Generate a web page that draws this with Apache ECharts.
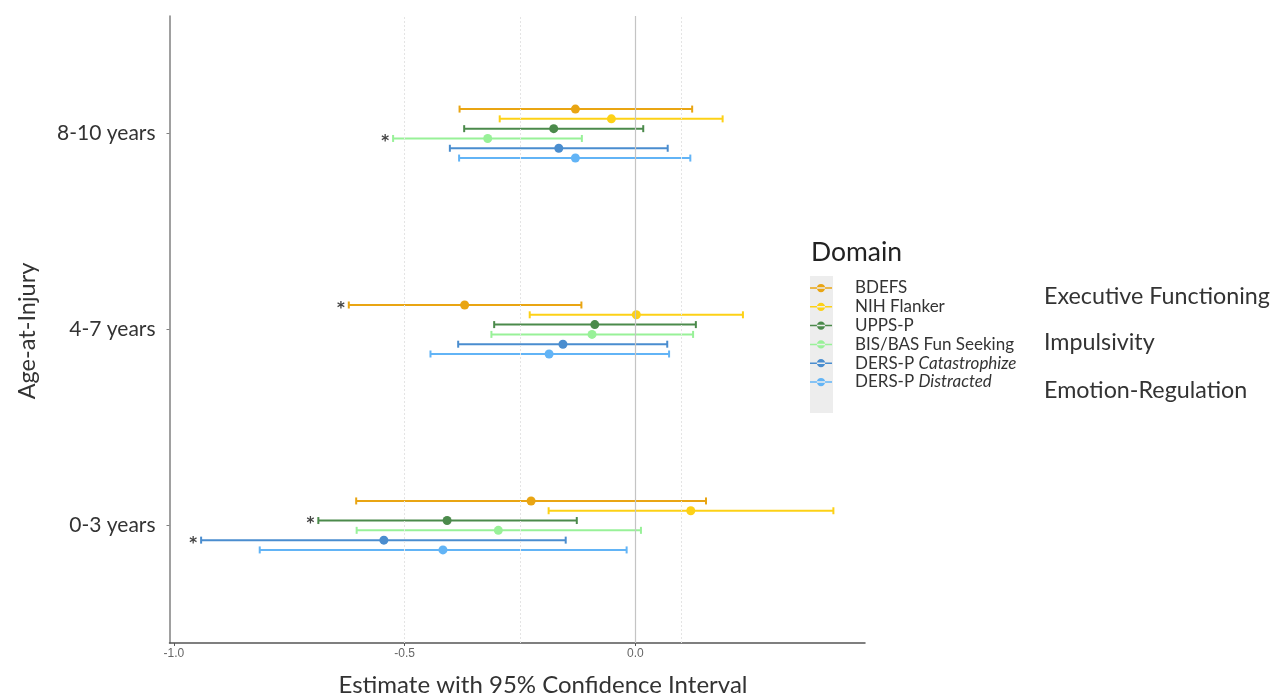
<!DOCTYPE html>
<html>
<head>
<meta charset="utf-8">
<script src="https://cdn.jsdelivr.net/npm/echarts@6/dist/echarts.min.js"></script>
<style>html,body{margin:0;padding:0;background:#fff}#c{width:1271px;height:697px}</style>
</head>
<body>
<div id="c"></div>
<script>
// ---- data ----
const ageGroups = ['0-3 years', '4-7 years', '8-10 years'];
const measures = ['BDEFS', 'NIH Flanker', 'UPPS-P', 'BIS/BAS Fun Seeking', 'DERS-P Catastrophize', 'DERS-P Distracted'];
const domains = ['Executive Functioning', 'Impulsivity', 'Emotion-Regulation'];
const xTickValues = [-1.0, -0.5, 0.0];
// [lower, estimate, upper] per age group (0-3, 4-7, 8-10)
const ciBDEFS      = [[-0.605, -0.226, 0.153], [-0.621, -0.370, -0.117], [-0.381, -0.130, 0.123]];
const ciNIHFlanker = [[-0.188, 0.120, 0.429], [-0.229, 0.002, 0.233], [-0.294, -0.052, 0.189]];
const ciUPPSP      = [[-0.687, -0.408, -0.127], [-0.306, -0.088, 0.131], [-0.371, -0.177, 0.017]];
const ciBISBAS     = [[-0.604, -0.297, 0.012], [-0.312, -0.094, 0.125], [-0.525, -0.320, -0.116]];
const ciDERSCat    = [[-0.941, -0.545, -0.151], [-0.384, -0.157, 0.069], [-0.402, -0.166, 0.070]];
const ciDERSDis    = [[-0.814, -0.417, -0.019], [-0.444, -0.187, 0.073], [-0.382, -0.130, 0.119]];
// significance flags (*) per age group
const sigBDEFS = [0, 1, 0];
const sigNIHFlanker = [0, 0, 0];
const sigUPPSP = [1, 0, 0];
const sigBISBAS = [0, 0, 1];
const sigDERSCat = [1, 0, 0];
const sigDERSDis = [0, 0, 0];

const allCI = [ciBDEFS, ciNIHFlanker, ciUPPSP, ciBISBAS, ciDERSCat, ciDERSDis];
const allSig = [sigBDEFS, sigNIHFlanker, sigUPPSP, sigBISBAS, sigDERSCat, sigDERSDis];
const colors = ['#E9A513', '#FDD116', '#4B8A4B', '#98F198', '#4A8DCF', '#62B4F6'];

// ---- scales ----
let lo = Infinity, hi = -Infinity;
allCI.forEach(s => s.forEach(r => { lo = Math.min(lo, r[0]); hi = Math.max(hi, r[2]); }));
const pad = (hi - lo) * 0.05;
const xMin = lo - pad, xMax = hi + pad;
const dodge = 0.3;
const nM = measures.length;

const font = 'Lato';
const chart = echarts.init(document.getElementById('c'), null, {renderer: 'canvas'});

function renderCI(params, api) {
  const y = api.value(3) + api.value(4);
  const pL = api.coord([api.value(0), y]);
  const pE = api.coord([api.value(1), y]);
  const pH = api.coord([api.value(2), y]);
  const color = api.visual('color');
  const cap = 3.5;
  const st = {stroke: color, lineWidth: 2};
  const ch = [
    {type: 'line', shape: {x1: pL[0], y1: pL[1], x2: pH[0], y2: pH[1]}, style: st},
    {type: 'line', shape: {x1: pL[0], y1: pL[1] - cap, x2: pL[0], y2: pL[1] + cap}, style: st},
    {type: 'line', shape: {x1: pH[0], y1: pH[1] - cap, x2: pH[0], y2: pH[1] + cap}, style: st},
    {type: 'circle', shape: {cx: pE[0], cy: pE[1], r: 4.5}, style: {fill: color}}
  ];
  if (api.value(5)) {
    ch.push({type: 'text', style: {text: '*', x: pL[0] - 8, y: pL[1] + 4, align: 'center', verticalAlign: 'middle',
      font: 'bold 15px "DejaVu Sans"', fill: '#444'}});
  }
  return {type: 'group', children: ch};
}

const series = measures.map((m, i) => ({
  name: m,
  type: 'custom',
  color: colors[i],
  itemStyle: {color: colors[i]},
  renderItem: renderCI,
  encode: {x: [0, 1, 2], y: 3},
  silent: true,
  data: allCI[i].map((r, g) => [r[0], r[1], r[2], g, dodge / 2 - dodge / nM * (i + 0.5), allSig[i][g]]),
  markLine: i === 0 ? {
    silent: true, symbol: 'none', label: {show: false},
    data: [
      {xAxis: -0.5, lineStyle: {color: '#e4e4e4', type: [2, 2], width: 1}},
      {xAxis: -0.25, lineStyle: {color: '#e4e4e4', type: [2, 2], width: 1}},
      {xAxis: 0.1, lineStyle: {color: '#e4e4e4', type: [2, 2], width: 1}},
      {xAxis: 0, lineStyle: {color: '#c4c4c4', type: 'solid', width: 1.2}}
    ]
  } : undefined
}));

const italicPart = {'DERS-P Catastrophize': ['DERS-P ', 'Catastrophize'], 'DERS-P Distracted': ['DERS-P ', 'Distracted']};

chart.setOption({
  animation: false,
  backgroundColor: '#fff',
  grid: {left: 169.5, right: 406, top: 16, bottom: 54, containLabel: false},
  xAxis: {
    type: 'value', min: xMin, max: xMax,
    axisLine: {show: true, onZero: false, lineStyle: {color: '#555', width: 1.5}},
    axisTick: {show: true, customValues: xTickValues, length: 3, lineStyle: {color: '#555'}},
    axisLabel: {customValues: xTickValues, formatter: v => v.toFixed(1), color: '#666', fontSize: 12,
      fontFamily: 'Liberation Sans', margin: 5},
    splitLine: {show: false}
  },
  yAxis: {
    type: 'value', min: -0.6, max: 2.6,
    axisLine: {show: true, onZero: false, lineStyle: {color: '#808080', width: 1.5}},
    axisTick: {show: true, customValues: [0, 1, 2], length: 3, lineStyle: {color: '#808080'}},
    axisLabel: {customValues: [0, 1, 2], formatter: v => ageGroups[Math.round(v)], color: '#333', fontSize: 21,
      fontFamily: font, margin: 14},
    splitLine: {show: false}
  },
  legend: {
    orient: 'vertical', left: 810, top: 279.5, padding: 0,
    itemWidth: 22, itemHeight: 10, itemGap: 1.8,
    icon: 'path://M0,4.2H24V5.8H0Z M7.5,5a4.5,4.5 0 1,0 9,0a4.5,4.5 0 1,0 -9,0Z',
    selectedMode: false,
    data: measures,
    formatter: n => italicPart[n] ? '{n|' + italicPart[n][0] + '}{i|' + italicPart[n][1] + '}' : n,
    textStyle: {
      fontFamily: font, fontSize: 17, color: '#333', padding: [0, 0, 0, 18],
      rich: {n: {fontFamily: font, fontSize: 17, color: '#333'}, i: {fontFamily: font, fontSize: 17, color: '#333', fontStyle: 'italic'}}
    }
  },
  graphic: [
    {type: 'rect', left: 810, top: 276, z: -1, shape: {width: 23, height: 137}, style: {fill: '#ededed'}},
    {type: 'text', x: 811, y: 252, style: {text: 'Domain', font: '26.5px ' + font, fill: '#222', verticalAlign: 'middle'}},
    {type: 'text', x: 1044, y: 296, style: {text: domains[0], font: '23.3px ' + font, fill: '#333', verticalAlign: 'middle'}},
    {type: 'text', x: 1044, y: 342, style: {text: domains[1], font: '23.3px ' + font, fill: '#333', verticalAlign: 'middle'}},
    {type: 'text', x: 1044, y: 390, style: {text: domains[2], font: '23.3px ' + font, fill: '#333', verticalAlign: 'middle'}},
    {type: 'text', x: 27, y: 331, rotation: Math.PI / 2,
      style: {text: 'Age-at-Injury', font: '23.5px ' + font, fill: '#333', align: 'center', verticalAlign: 'middle'}},
    {type: 'text', x: 543, y: 685,
      style: {text: 'Estimate with 95% Confidence Interval', font: '24px ' + font, fill: '#333', align: 'center', verticalAlign: 'middle'}}
  ],
  series: series
});
</script>
</body>
</html>
